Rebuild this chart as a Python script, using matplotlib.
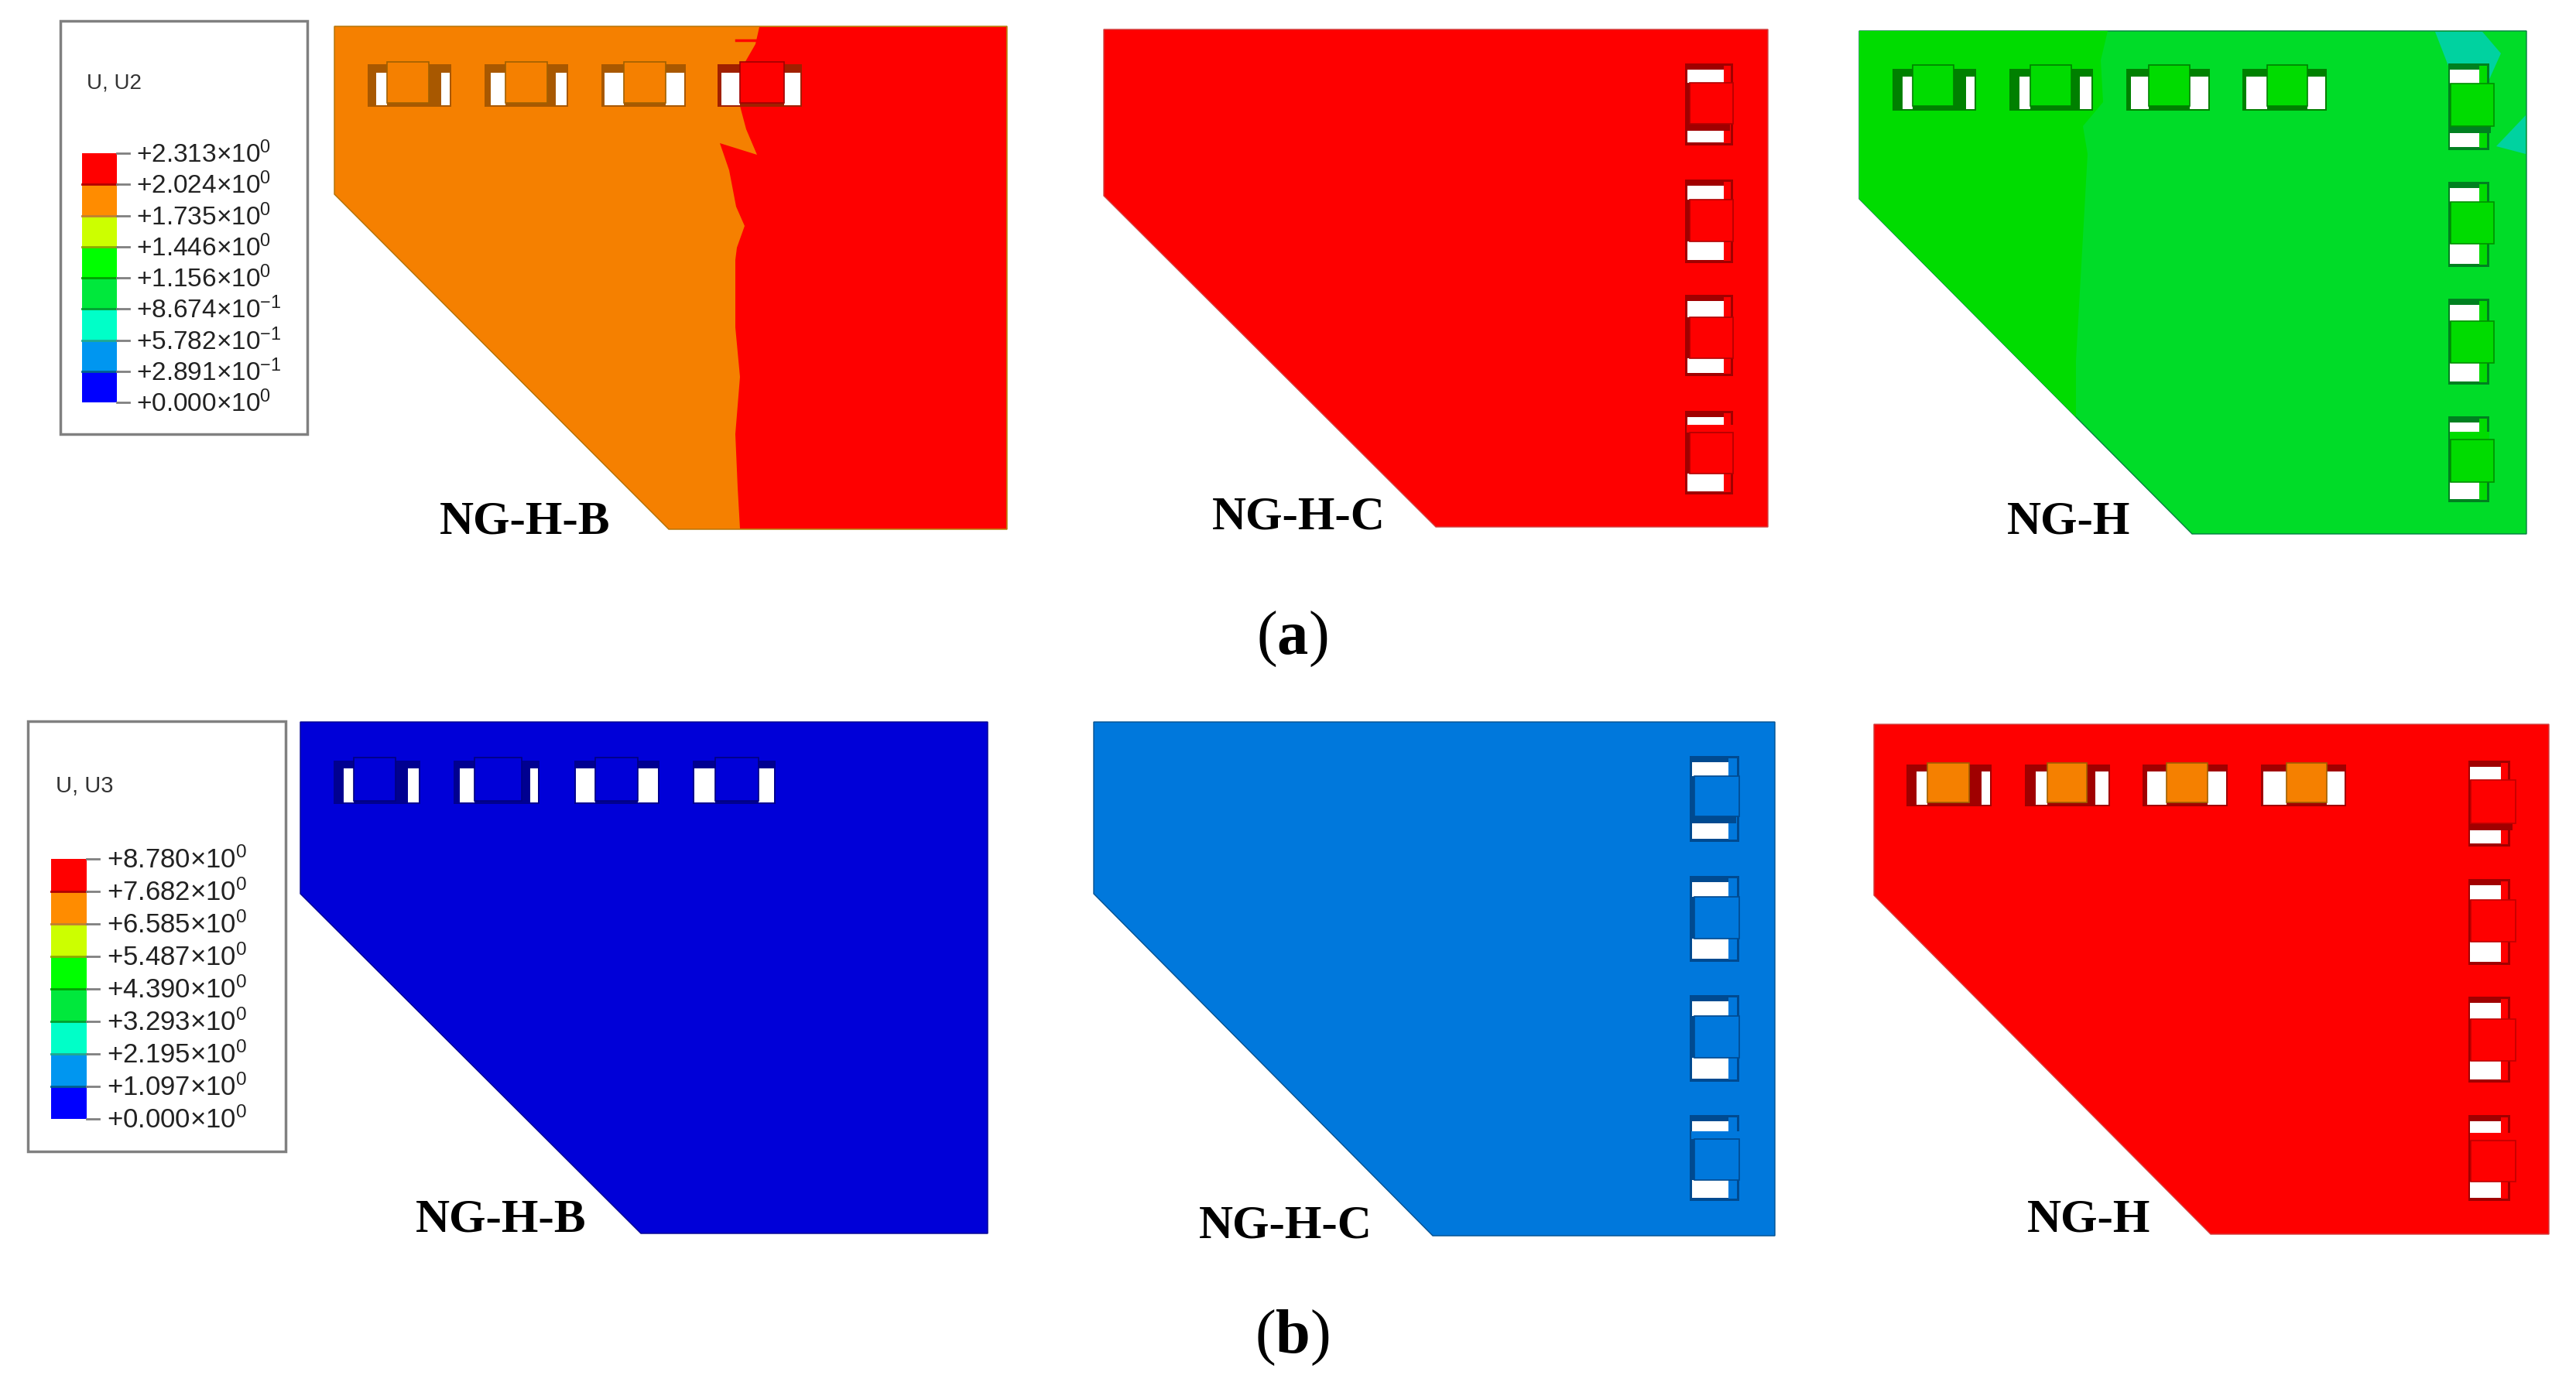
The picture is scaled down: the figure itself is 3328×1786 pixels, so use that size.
import matplotlib
matplotlib.use('Agg')
import matplotlib.pyplot as plt
from matplotlib.patches import Polygon, Rectangle

plt.rcParams['font.family'] = ['Liberation Sans', 'DejaVu Sans']
plt.rcParams['mathtext.fontset'] = 'custom'
plt.rcParams['mathtext.rm'] = 'Liberation Sans'
plt.rcParams['mathtext.bf'] = 'Liberation Serif:bold'
plt.rcParams['mathtext.default'] = 'regular'

# legend values
u2_mant = ['+2.313', '+2.024', '+1.735', '+1.446', '+1.156', '+8.674', '+5.782', '+2.891', '+0.000']
u2_exp = ['0', '0', '0', '0', '0', '-1', '-1', '-1', '0']
u3_mant = ['+8.780', '+7.682', '+6.585', '+5.487', '+4.390', '+3.293', '+2.195', '+1.097', '+0.000']
u3_exp = ['0', '0', '0', '0', '0', '0', '0', '0', '0']
band_colors = ['#ff0000', '#ff8c00', '#ccff00', '#00ff00', '#00e83c', '#00ffc8', '#0096f0', '#0000ff']
band_dark = ['#b00000', '#c08030', '#90a800', '#00a000', '#00a030', '#20a890', '#006090', '#000080']

RED = '#fe0000'
ORANGE = '#f58000'
GREEN1 = '#00dc00'
GREEN2 = '#00dc28'
BLUE = '#0000d8'
MIDBLUE = '#0078dc'

fig = plt.figure(figsize=(33.28, 17.86), dpi=100)
ax = fig.add_axes([0, 0, 1, 1])
ax.set_xlim(0, 3328)
ax.set_ylim(1786, 0)
ax.axis('off')


def plate(l, r, t, b, cy, cx):
    return [(l, t), (r, t), (r, b), (cx, b), (l, cy)]


def draw_plate(l, r, t, b, cy, cx, color, edge):
    ax.add_patch(Polygon(plate(l, r, t, b, cy, cx), closed=True, fc=color, ec=edge, lw=1, zorder=1))


def rect(x0, y0, x1, y1, fc, ec='none', lw=0, z=3):
    ax.add_patch(Rectangle((x0, y0), x1 - x0, y1 - y0, fc=fc, ec=ec, lw=lw, zorder=z))


def h_slots(xl, xr, hl, blo, bhi, y0, y1, ht, hb, bt, bb, dark, blocks, edges):
    # row of slots along the top edge, block sits in the middle
    for i in range(len(xl)):
        rect(xl[i], y0, xr[i], y1, dark[i], z=2)
        rect(hl[i], ht, blo[i], hb, 'white', z=3)
        rect(bhi[i], ht, xr[i] - 2, hb, 'white', z=3)
        rect(bhi[i], ht, bhi[i] + (16 - 5 * i if i < 2 else 0), hb, dark[i], z=3)
        rect(blo[i], bt, bhi[i], bb, blocks[i], edges[i], 1.2, z=4)


def v_slots(x0, x1, hx0, hx1, ys0, ys1, bx0, bx1, bt, bb, color, dark, edge):
    # column of slots along the right edge
    for i in range(4):
        rect(x0, ys0[i], x1, ys1[i], dark, z=2)
        rect(hx1, ys0[i] + 3, x1 - 3, ys1[i] - 3, color, z=3)
        top_end = bt[i] - (10 if i == 3 else 0)
        bot_start = bb[i] + (9 if i == 0 else 0)
        rect(hx0, ys0[i] + 8, hx1, top_end, 'white', z=3)
        rect(hx0, bot_start, hx1, ys1[i] - 4, 'white', z=3)
        rect(x0 + 2, top_end, x1, bt[i], color, z=3)
        if i == 0:
            rect(bx0, bb[i], bx1 - 4, bb[i] + 9, dark, z=4)
        rect(bx0, bt[i], bx1, bb[i], color, edge, 1.2, z=5)


def legend(box, bar, title, title_xy, mants, exps, fs, tx):
    x0, y0, x1, y1 = box
    rect(x0, y0, x1, y1, 'white', '#808080', 2.5, z=1)
    ax.text(title_xy[0], title_xy[1], title, fontsize=fs - 4, color='#333333', va='center', ha='left', zorder=6)
    bx0, by0, bx1, by1 = bar
    h = (by1 - by0) / 8
    for i in range(8):
        rect(bx0, by0 + i * h, bx1, by0 + (i + 1) * h, band_colors[i], z=2)
    for i in range(1, 8):
        ax.plot([bx0, bx1], [by0 + i * h, by0 + i * h], color=band_dark[i - 1], lw=2, zorder=3)
    for i in range(9):
        y = by0 + i * h
        ax.plot([bx1, bx1 + 16], [y, y], color='#808080', lw=2, zorder=3)
        ax.text(tx, y + 2, mants[i] + '×10$^{' + exps[i] + '}$', fontsize=fs, color='#222222',
                va='center', ha='left', zorder=6)


def label(x, y, s):
    ax.text(x, y + 4, s, fontsize=44, fontweight='bold', family=['Liberation Serif'], color='black',
            ha='center', va='center', zorder=7)


# ---- row (a) ----
legend((78, 27, 397, 561), (106, 198, 151, 520), 'U, U2', (112, 107), u2_mant, u2_exp, 24, 176)
legend((36, 932, 369, 1488), (66, 1110, 112, 1446), 'U, U3', (72, 1016), u3_mant, u3_exp, 25, 138)

# NG-H-B U2
draw_plate(432, 1301, 34, 684, 251, 864, ORANGE, '#b07000')
split_x = [981, 976, 961, 956, 964, 978, 930, 942, 951, 962, 952, 950, 950, 956, 950, 953, 956]
split_y = [35, 57, 83, 137, 167, 200, 185, 220, 267, 292, 320, 336, 423, 487, 561, 630, 683]
red_part = list(zip(split_x, split_y)) + [(1300, 683), (1300, 35)]
ax.add_patch(Polygon(red_part, closed=True, fc=RED, ec='none', zorder=1.5))
ax.plot([951, 978], [52, 52], color=RED, lw=2.5, zorder=1.6)
h_slots([475, 626, 777, 927], [583, 734, 886, 1036], [486, 634, 781, 932],
        [500, 653, 806, 956], [554, 707, 860, 1013],
        83, 138, 94, 136, 80, 133,
        ['#a85800', '#a85800', '#a85800', '#a02000'], [ORANGE, ORANGE, ORANGE, RED],
        ['#a06000', '#a06000', '#a06000', '#a00000'])

# NG-H-C U2
draw_plate(1426, 2284, 38, 681, 253, 1855, RED, '#d04040')
v_slots(2177, 2239, 2180, 2227, [82, 232, 381, 531], [188, 340, 486, 639],
        2183, 2239, [107, 258, 410, 559], [160, 312, 463, 612], RED, '#a00000', '#b00000')

# NG-H U2
draw_plate(2402, 3264, 40, 690, 257, 2832, GREEN2, '#008040')
left_green = [(2402, 40), (2723, 40), (2714, 78), (2717, 132), (2691, 163), (2697, 199),
              (2682, 466), (2682, 539), (2402, 257)]
ax.add_patch(Polygon(left_green, closed=True, fc=GREEN1, ec='none', zorder=1.5))
ax.add_patch(Polygon([(3146, 41), (3207, 41), (3231, 69), (3213, 109), (3204, 87), (3163, 85)],
                     closed=True, fc='#00d2a0', ec='none', zorder=1.5))
ax.add_patch(Polygon([(3263, 149), (3225, 189), (3263, 199)], closed=True, fc='#00d2a0', ec='none', zorder=1.5))
h_slots([2445, 2596, 2747, 2897], [2553, 2704, 2855, 3006], [2458, 2609, 2753, 2902],
        [2471, 2623, 2776, 2929], [2524, 2676, 2829, 2981],
        89, 143, 99, 141, 84, 137,
        ['#008000'] * 4, [GREEN1] * 4, ['#008000'] * 4)
v_slots(3163, 3216, 3165, 3203, [82, 235, 386, 538], [194, 345, 497, 649],
        3166, 3222, [108, 261, 415, 568], [163, 315, 469, 623], GREEN1, '#008020', '#009000')

# ---- row (b) ----
# NG-H-B U3
draw_plate(388, 1276, 933, 1594, 1155, 828, BLUE, '#000090')
h_slots([431, 586, 742, 895], [543, 697, 852, 1002], [444, 594, 744, 897],
        [457, 613, 769, 924], [511, 674, 824, 980],
        983, 1039, 993, 1037, 979, 1035,
        ['#000090'] * 4, [BLUE] * 4, ['#000080'] * 4)

# NG-H-C U3
draw_plate(1413, 2293, 933, 1597, 1155, 1851, MIDBLUE, '#005090')
v_slots(2183, 2247, 2186, 2233, [977, 1132, 1286, 1441], [1088, 1243, 1398, 1552],
        2189, 2247, [1003, 1159, 1313, 1472], [1055, 1213, 1367, 1525], MIDBLUE, '#004a90', '#004a90')

# NG-H U3
draw_plate(2421, 3293, 936, 1595, 1157, 2856, RED, '#d04040')
h_slots([2463, 2616, 2768, 2921], [2573, 2726, 2878, 3031], [2476, 2630, 2774, 2924],
        [2490, 2645, 2799, 2954], [2544, 2696, 2852, 3006],
        988, 1042, 997, 1040, 986, 1037,
        ['#a00000'] * 4, [ORANGE] * 4, ['#a06000'] * 4)
v_slots(3189, 3243, 3191, 3231, [983, 1136, 1288, 1441], [1094, 1247, 1399, 1552],
        3192, 3250, [1008, 1163, 1317, 1474], [1064, 1217, 1371, 1527], RED, '#a00000', '#c00000')

label(678, 671, 'NG-H-B')
label(1678, 664, 'NG-H-C')
label(2673, 671, 'NG-H')
label(647, 1573, 'NG-H-B')
label(1661, 1580, 'NG-H-C')
label(2699, 1572, 'NG-H')

ax.text(1669, 826, r'($\mathbf{a}$)', fontsize=58, family=['Liberation Serif'], ha='center', va='center')
ax.text(1669, 1729, r'($\mathbf{b}$)', fontsize=58, family=['Liberation Serif'], ha='center', va='center')

fig.savefig('out.png', dpi=100)
